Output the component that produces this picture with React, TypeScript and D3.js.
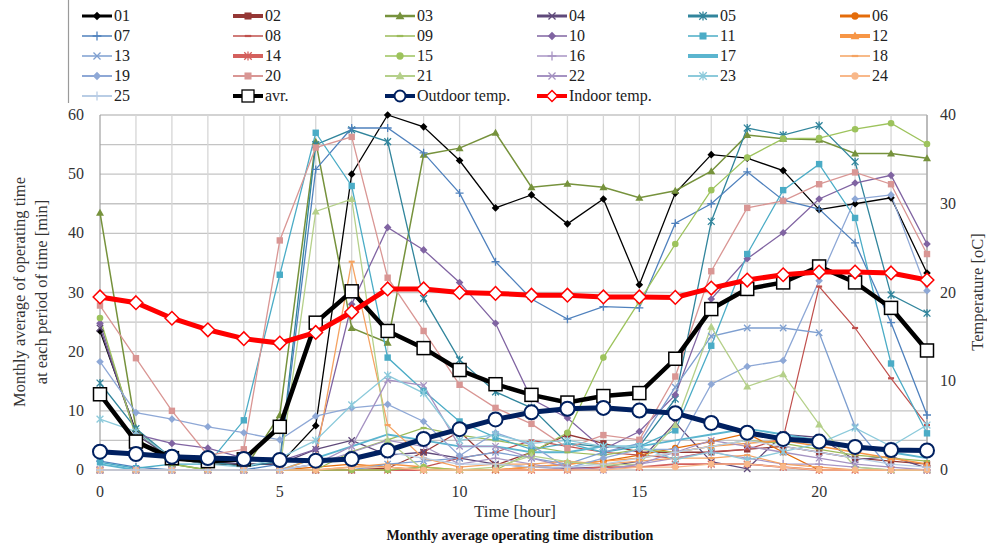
import React from 'react';
import * as d3 from 'd3';

const hours = [0, 1, 2, 3, 4, 5, 6, 7, 8, 9, 10, 11, 12, 13, 14, 15, 16, 17, 18, 19, 20, 21, 22, 23];
const xTickLabels = [0, 5, 10, 15, 20];
const yLeftTicks = [0, 10, 20, 30, 40, 50, 60];
const yRightTicks = [0, 10, 20, 30, 40];
const yGrid = [5, 10, 15, 20, 25, 30, 35, 40, 45, 50, 55, 60];

const s01 = [23.5, 6.5, 2, 1, 1, 1, 7.5, 50, 60, 58, 52.3, 44.3, 46.5, 41.6, 45.8, 31.3, 46.8, 53.3, 52.7, 50.6, 44, 45, 46, 33.3];
const s02 = [0, 0, 0, 0, 0, 0, 0, 0, 0.3, 3, 6.5, 0.8, 3, 6, 4.5, 3, 3, 3, 3.5, 4, 3, 2, 1.5, 1];
const s03 = [43.5, 7, 1, 0, 0, 9.3, 55.5, 24, 21.5, 53.3, 54.4, 57, 47.8, 48.4, 47.8, 46, 47.2, 50.5, 56.6, 56, 55.8, 53.5, 53.5, 52.7];
const s04 = [24, 6, 2, 1.5, 1, 1, 3.5, 5, 2.5, 3, 2, 1, 0.5, 0.3, 0.5, 1.5, 8, 1.4, 0.2, 6, 5.5, 1.7, 2.3, 0.3];
const s05 = [14.7, 7, 2, 1.5, 0.5, 1.5, 55, 57.5, 55.5, 29, 18.6, 13.2, 10.5, 4.5, 3.9, 4, 12, 42, 57.8, 56.6, 58.2, 52.1, 29.6, 26.5];
const s06 = [0, 0, 0, 0, 0, 0, 0.5, 1, 0.5, 0, 0, 0, 0.5, 1, 1.5, 2.5, 3.7, 4.8, 6.2, 3, 0, 0, 0, 0];
const s07 = [1.5, 0.5, 0, 0, 0, 1, 50.8, 57.8, 57.8, 53.6, 46.8, 35.2, 28.9, 25.5, 27.6, 27.4, 41.7, 45, 50.4, 45.6, 44.1, 38.4, 24.9, 9.3];
const s08 = [0, 0, 0, 0, 0, 0, 0, 0, 0, 0.5, 2, 3, 5, 4, 3, 2.5, 2, 3.1, 3.5, 5.4, 31, 24, 15.5, 7.6];
const s09 = [0, 0, 0, 0, 0, 0, 0, 3.1, 5.1, 7.1, 5.9, 5, 4, 3, 2.5, 3.5, 3, 4, 5, 4.5, 3.5, 2.5, 2, 1.5];
const s10 = [24.8, 6, 4.5, 3.7, 2, 1.5, 3.5, 28, 41, 37.2, 31.7, 24.8, 12, 8.8, 3.5, 6.5, 12.7, 28.9, 35.7, 40.1, 45.8, 48.5, 49.8, 38.2];
const s11 = [1.3, 0.3, 1, 1, 8.4, 33, 57, 48, 19, 13.4, 8.2, 5.5, 3.5, 4.5, 3, 4, 6.7, 21, 36.5, 47.3, 51.7, 42.6, 18, 6.2];
const s12 = [0, 0, 0, 0, 0, 0, 0, 0.5, 1, 0.5, 0, 0, 0.5, 1, 1.5, 2, 3, 4, 4.5, 5, 4, 3, 2, 1];
const s13 = [0, 0, 0, 0, 0, 0, 0, 0, 1, 1.5, 2, 3, 2, 1, 3, 4.5, 14, 22.6, 24, 24, 23.2, 7.3, 0, 0];
const s14 = [0, 0, 0, 0, 0, 0, 0, 0, 0, 0, 0, 0, 0, 0, 0.5, 0.5, 1, 1, 1, 0.5, 0, 0, 0, 0];
const s15 = [25.7, 5.5, 1, 0, 0, 0, 0, 0, 0, 0.5, 0, 0, 3, 6.3, 19, 28.5, 38.2, 47.3, 52.8, 56, 56.1, 57.6, 58.6, 55.1];
const s16 = [0, 0, 0, 0, 0, 0, 1, 3, 5, 4, 1, 2, 1, 0, 0, 1, 2, 3, 2, 1, 1, 0.5, 0, 0];
const s17 = [1, 0, 0, 0, 0, 0, 2, 4, 6, 5, 4, 4, 3, 3, 4, 4, 5, 6, 7, 6, 5, 4, 3, 2];
const s18 = [0, 0, 0, 0, 0, 0, 2, 35.2, 7.6, 2, 0.5, 1, 1, 1.5, 1, 1.5, 2, 2, 2.5, 1, 0.5, 0, 0, 0];
const s19 = [18.3, 9.7, 8.6, 7.3, 6.3, 5.1, 9.1, 10.5, 11.1, 8.2, 2.4, 6.3, 4.2, 0.3, 2, 3.5, 3.5, 14.5, 17.5, 18.5, 32, 45.8, 46.5, 30.3];
const s20 = [27.8, 18.9, 10, 2.5, 3.5, 38.8, 54.5, 56.3, 32.5, 23.5, 14.4, 10.5, 7.8, 3.7, 5.9, 5.1, 15.8, 33.6, 44.3, 45.5, 48.3, 50.3, 48.3, 36.5];
const s21 = [0, 0, 0, 0, 0, 0, 43.7, 45.8, 5, 0, 0, 0.5, 2.4, 1.4, 0.8, 1, 7.6, 24.2, 14.1, 16.2, 7.7, 0.5, 0, 0];
const s22 = [0, 0, 0, 0, 0, 0, 1, 4, 15.2, 14.3, 4, 4, 2, 0.5, 0, 1, 3, 5, 4, 3, 2, 1, 0.5, 0];
const s23 = [8.6, 6.5, 2, 1, 0.5, 2, 5, 11, 16, 13, 5, 6, 4.5, 5, 4, 4, 1.7, 3.1, 1.7, 3.1, 4.5, 7.1, 4, 7.6];
const s24 = [0, 0, 0, 0, 0, 0, 0, 0.5, 0.5, 0, 0, 0, 0, 0, 0, 0.5, 0.5, 1, 1, 0.5, 0, 0, 0, 0];
const s25 = [0, 0, 0, 0, 0, 0, 1, 2, 3, 2, 1, 1, 0.5, 0.5, 1, 2, 3, 4, 5, 4, 3, 2, 1, 0.5];

const avr = [12.8, 4.8, 2, 1.5, 1.8, 7.3, 24.9, 30.2, 23.5, 20.6, 16.9, 14.5, 12.7, 11.4, 12.5, 13, 18.8, 27.2, 30.6, 31.7, 34.4, 31.7, 27.4, 20.2];
const outdoorTemp = [2.06, 1.8, 1.5, 1.35, 1.24, 1.13, 1.05, 1.24, 2.2, 3.5, 4.6, 5.7, 6.5, 6.9, 7.0, 6.7, 6.4, 5.3, 4.2, 3.5, 3.2, 2.6, 2.25, 2.2];
const indoorTemp = [19.5, 18.85, 17.1, 15.8, 14.8, 14.3, 15.5, 17.8, 20.4, 20.4, 20.0, 19.9, 19.7, 19.7, 19.5, 19.5, 19.45, 20.5, 21.4, 22, 22.3, 22.3, 22.2, 21.4];

const seriesNames = ['01', '02', '03', '04', '05', '06', '07', '08', '09', '10', '11', '12', '13', '14', '15', '16', '17', '18', '19', '20', '21', '22', '23', '24', '25'];
const seriesValues = [s01, s02, s03, s04, s05, s06, s07, s08, s09, s10, s11, s12, s13, s14, s15, s16, s17, s18, s19, s20, s21, s22, s23, s24, s25];

type Mk = 'diamond' | 'square' | 'triangle' | 'x' | 'star' | 'circle' | 'plus' | 'dash' | 'none';
const seriesStyle: { color: string; marker: Mk; lw: number; pw: number }[] = [
  { color: '#000000', marker: 'diamond', lw: 3, pw: 1.3 },
  { color: '#953735', marker: 'square', lw: 4, pw: 1.3 },
  { color: '#76923C', marker: 'triangle', lw: 2.5, pw: 1.5 },
  { color: '#5F497A', marker: 'x', lw: 3, pw: 1.3 },
  { color: '#31859C', marker: 'star', lw: 3, pw: 1.3 },
  { color: '#E46C0A', marker: 'circle', lw: 3, pw: 1.3 },
  { color: '#4F81BD', marker: 'plus', lw: 1.5, pw: 1.3 },
  { color: '#C0504D', marker: 'dash', lw: 1.5, pw: 1.2 },
  { color: '#9BBB59', marker: 'dash', lw: 1.5, pw: 1.2 },
  { color: '#8064A2', marker: 'diamond', lw: 1.5, pw: 1.3 },
  { color: '#4BACC6', marker: 'square', lw: 1.5, pw: 1.3 },
  { color: '#F79646', marker: 'triangle', lw: 4, pw: 1.5 },
  { color: '#7E9FD0', marker: 'x', lw: 1.5, pw: 1.3 },
  { color: '#D4605D', marker: 'star', lw: 4, pw: 1.8 },
  { color: '#9DC35C', marker: 'circle', lw: 1.5, pw: 1.3 },
  { color: '#A895C4', marker: 'plus', lw: 1.5, pw: 1.2 },
  { color: '#5BB5CF', marker: 'none', lw: 4, pw: 1.8 },
  { color: '#F5A362', marker: 'dash', lw: 1.5, pw: 1.3 },
  { color: '#8EA8D6', marker: 'diamond', lw: 2, pw: 1.3 },
  { color: '#D99694', marker: 'square', lw: 2, pw: 1.3 },
  { color: '#B5D08A', marker: 'triangle', lw: 2, pw: 1.3 },
  { color: '#A592C2', marker: 'x', lw: 2, pw: 1.3 },
  { color: '#8CCADB', marker: 'star', lw: 2, pw: 1.3 },
  { color: '#F8B88A', marker: 'circle', lw: 2, pw: 1.3 },
  { color: '#B9CDE5', marker: 'plus', lw: 2, pw: 1.3 },
];

const FONT = '"Liberation Serif", "Times New Roman", serif';

function Marker({ type, x, y, color, s = 1 }: { type: Mk; x: number; y: number; color: string; s?: number }) {
  switch (type) {
    case 'diamond': {
      const r = 3.8 * s;
      return <path d={`M${x},${y - r}L${x + r},${y}L${x},${y + r}L${x - r},${y}Z`} fill={color} />;
    }
    case 'square': {
      const r = 3.2 * s;
      return <rect x={x - r} y={y - r} width={2 * r} height={2 * r} fill={color} />;
    }
    case 'triangle': {
      const r = 4 * s;
      return <path d={`M${x},${y - r}L${x + r},${y + r * 0.75}L${x - r},${y + r * 0.75}Z`} fill={color} />;
    }
    case 'x': {
      const r = 3.2 * s;
      return <path d={`M${x - r},${y - r}L${x + r},${y + r}M${x - r},${y + r}L${x + r},${y - r}`} stroke={color} strokeWidth={1.3} />;
    }
    case 'star': {
      const r = 3.4 * s;
      return <path d={`M${x - r},${y - r}L${x + r},${y + r}M${x - r},${y + r}L${x + r},${y - r}M${x},${y - r * 1.2}L${x},${y + r * 1.2}`} stroke={color} strokeWidth={1.3} />;
    }
    case 'circle':
      return <circle cx={x} cy={y} r={3.3 * s} fill={color} />;
    case 'plus': {
      const r = 4 * s;
      return <path d={`M${x - r},${y}L${x + r},${y}M${x},${y - r}L${x},${y + r}`} stroke={color} strokeWidth={1.3} />;
    }
    case 'dash': {
      const r = 3 * s;
      return <path d={`M${x - r},${y}L${x + r},${y}`} stroke={color} strokeWidth={2.2} />;
    }
    default:
      return null;
  }
}

export default function App() {
  const W = 987, H = 549;
  const left = 100, right = 927, top = 115, bottom = 470;
  const x = d3.scaleLinear().domain([0, 23]).range([left, right]);
  const yL = d3.scaleLinear().domain([0, 60]).range([bottom, top]);
  const yR = d3.scaleLinear().domain([0, 40]).range([bottom, top]);
  const lineL = d3.line<number>().x((_, i) => x(hours[i])).y((d) => yL(d));
  const lineR = d3.line<number>().x((_, i) => x(hours[i])).y((d) => yR(d));

  const colX = [82, 233, 385, 537, 688, 840];
  const rowY = [16, 36, 56, 76, 96];
  const symLen = 30;

  const legendItems: { label: string; col: number; row: number; render: (x0: number, y0: number) => React.ReactNode }[] = [];
  seriesNames.forEach((n, i) => {
    const st = seriesStyle[i];
    legendItems.push({
      label: n,
      col: i % 6,
      row: Math.floor(i / 6),
      render: (x0, y0) => (
        <g>
          <line x1={x0} x2={x0 + symLen} y1={y0} y2={y0} stroke={st.color} strokeWidth={st.lw} />
          <Marker type={st.marker} x={x0 + symLen / 2} y={y0} color={st.color} s={1.1} />
        </g>
      ),
    });
  });
  legendItems.push({
    label: 'avr.', col: 1, row: 4,
    render: (x0, y0) => (
      <g>
        <line x1={x0} x2={x0 + symLen} y1={y0} y2={y0} stroke="#000" strokeWidth={4} />
        <rect x={x0 + symLen / 2 - 6} y={y0 - 6} width={12} height={12} fill="#fff" stroke="#000" strokeWidth={1.3} />
      </g>
    ),
  });
  legendItems.push({
    label: 'Outdoor temp.', col: 2, row: 4,
    render: (x0, y0) => (
      <g>
        <line x1={x0} x2={x0 + symLen} y1={y0} y2={y0} stroke="#002060" strokeWidth={4} />
        <circle cx={x0 + symLen / 2} cy={y0} r={5.5} fill="#fff" stroke="#002060" strokeWidth={2} />
      </g>
    ),
  });
  legendItems.push({
    label: 'Indoor temp.', col: 3, row: 4,
    render: (x0, y0) => (
      <g>
        <line x1={x0} x2={x0 + symLen} y1={y0} y2={y0} stroke="#FF0000" strokeWidth={4} />
        <path d={`M${x0 + symLen / 2},${y0 - 5.5}l5.5,5.5l-5.5,5.5l-5.5,-5.5Z`} fill="#fff" stroke="#FF0000" strokeWidth={1.5} />
      </g>
    ),
  });

  return (
    <svg width={W} height={H} style={{ position: 'fixed', left: 0, top: 0, background: '#fff' }} fontFamily={FONT}>
      <rect x={0} y={0} width={W} height={H} fill="#fff" />
      {/* legend */}
      <line x1={68.5} x2={68.5} y1={0} y2={103} stroke="#9a9a9a" strokeWidth={1.2} />
      {legendItems.map((it, i) => (
        <g key={'lg' + i}>
          {it.render(colX[it.col], rowY[it.row])}
          <text x={colX[it.col] + symLen + 2} y={rowY[it.row] + 5} fontSize={16} fill="#222">{it.label}</text>
        </g>
      ))}

      {/* grid */}
      {yGrid.map((v) => (
        <line key={'gy' + v} x1={left} x2={right} y1={yL(v)} y2={yL(v)} stroke="#c4c4c4" strokeWidth={1.3} />
      ))}
      {hours.slice(1).map((h) => (
        <line key={'gx' + h} x1={x(h)} x2={x(h)} y1={top} y2={bottom} stroke="#d6d6d6" strokeWidth={1.3} />
      ))}
      <line x1={left} x2={left} y1={top} y2={bottom} stroke="#a0a0a0" strokeWidth={1.2} />
      <line x1={right} x2={right} y1={top} y2={bottom} stroke="#a0a0a0" strokeWidth={1.2} />
      <line x1={left} x2={right} y1={bottom} y2={bottom} stroke="#a0a0a0" strokeWidth={1.2} />

      {/* series lines */}
      {seriesValues.map((vals, i) => (
        <path key={'sl' + i} d={lineL(vals) || ''} fill="none" stroke={seriesStyle[i].color} strokeWidth={seriesStyle[i].pw} />
      ))}
      {seriesValues.map((vals, i) => (
        <g key={'sm' + i}>
          {vals.map((v, j) => (
            <Marker key={j} type={seriesStyle[i].marker} x={x(hours[j])} y={yL(v)} color={seriesStyle[i].color} />
          ))}
        </g>
      ))}

      {/* avr */}
      <path d={lineL(avr) || ''} fill="none" stroke="#000" strokeWidth={4.5} />
      {avr.map((v, j) => (
        <rect key={'av' + j} x={x(hours[j]) - 6.5} y={yL(v) - 6.5} width={13} height={13} fill="#fff" stroke="#000" strokeWidth={1.5} />
      ))}
      {/* outdoor */}
      <path d={lineR(outdoorTemp) || ''} fill="none" stroke="#002060" strokeWidth={5} />
      {outdoorTemp.map((v, j) => (
        <circle key={'ot' + j} cx={x(hours[j])} cy={yR(v)} r={7} fill="#fff" stroke="#002060" strokeWidth={2} />
      ))}
      {/* indoor */}
      <path d={lineR(indoorTemp) || ''} fill="none" stroke="#FF0000" strokeWidth={5} />
      {indoorTemp.map((v, j) => {
        const cx = x(hours[j]), cy = yR(v), r = 6.8;
        return <path key={'it' + j} d={`M${cx},${cy - r}L${cx + r},${cy}L${cx},${cy + r}L${cx - r},${cy}Z`} fill="#fff" stroke="#FF0000" strokeWidth={1.5} />;
      })}

      {/* axes labels */}
      {yLeftTicks.map((v) => (
        <text key={'yl' + v} x={84} y={yL(v) + 5} fontSize={16} textAnchor="end" fill="#333">{v}</text>
      ))}
      {yRightTicks.map((v) => (
        <text key={'yr' + v} x={940} y={yR(v) + 5} fontSize={16} textAnchor="start" fill="#333">{v}</text>
      ))}
      {xTickLabels.map((v) => (
        <text key={'xt' + v} x={x(v)} y={497} fontSize={16} textAnchor="middle" fill="#333">{v}</text>
      ))}
      <text x={515} y={517} fontSize={17} textAnchor="middle" fill="#333">Time [hour]</text>
      <text x={520} y={540} fontSize={14} fontWeight="bold" textAnchor="middle" fill="#111">Monthly average operating time distribution</text>
      <text transform={`translate(25,292) rotate(-90)`} fontSize={16.5} textAnchor="middle" fill="#333">Monthly average of operating time</text>
      <text transform={`translate(47,292) rotate(-90)`} fontSize={16.5} textAnchor="middle" fill="#333">at each period of time [min]</text>
      <text transform={`translate(983,292) rotate(-90)`} fontSize={16.5} textAnchor="middle" fill="#333">Temperature [oC]</text>
    </svg>
  );
}
